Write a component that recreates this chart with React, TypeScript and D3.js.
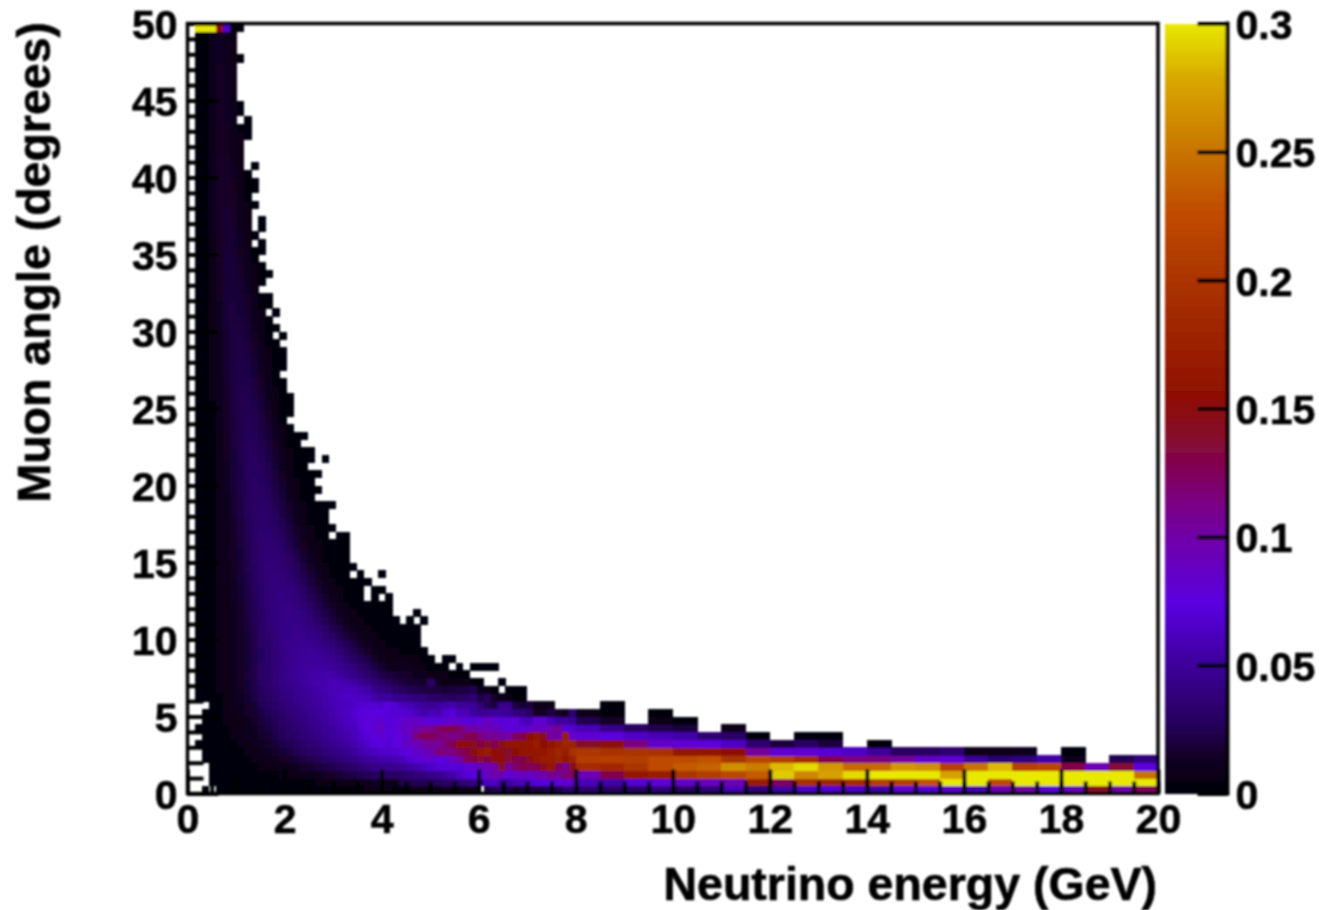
import React, { useEffect, useRef } from 'react';
import * as d3 from 'd3';

// Bin counts, in units of 0.001 on the colour axis. 0 = empty bin (white)
// Each row is one 0.5 degree slice of muon angle, first entry is the lowest energy bin.
const fineRows: number[][] = [
  [0,0,1,0,1,1,1,1,1,1,1,1,1,1,2,2,2,2,2,2,3,3,3,4,4,6,6,8,6,5,5,6,7,8,8,9,10,9,11,12,12,0,20,28,30,22,14,20,24,20,22,26,25,35,38],
  [0,0,0,1,1,1,1,1,2,2,2,2,2,3,3,4,4,5,6,6,7,8,8,9,10,11,13,14,12,12,24,25,26,26,27,28,30,33,36,38,42,45,62,66,50,52,58,62,68,70,72,78,80,82,85],
  [0,0,0,1,1,1,2,2,2,3,3,4,5,6,7,8,10,11,12,14,16,18,20,22,25,27,29,31,30,31,32,35,38,40,44,46,50,55,62,70,74,78,88,100,92,78,85,90,88,92,100,110,105,118,122],
  [0,0,0,1,2,2,2,3,3,5,6,7,8,10,11,13,15,17,20,22,25,27,30,32,36,39,42,45,45,46,48,52,55,60,66,70,70,72,70,78,82,90,95,100,140,105,120,130,125,130,145,165,125,110,145],
  [0,0,1,1,2,2,3,4,5,7,8,10,12,14,16,19,21,24,27,30,33,36,39,42,46,50,52,55,55,58,62,68,72,80,82,75,78,90,100,125,130,135,130,150,155,135,130,130,145,165,170,172,175,160,175],
  [0,0,1,1,2,3,4,5,7,8,11,13,15,19,21,25,28,30,33,37,40,44,47,50,55,59,62,66,66,68,72,78,85,90,95,118,115,112,125,130,148,165,170,155,148,138,155,160,165,165,165,170,180,170,195],
  [0,1,1,1,2,3,5,6,8,10,13,16,19,23,26,29,32,35,39,43,46,49,52,55,61,67,72,76,70,75,80,88,92,100,108,105,118,128,155,150,140,132,140,128,145,160,160,158,165,170,155,160,170,182,178],
  [0,0,1,1,3,4,6,8,11,12,16,19,23,27,30,33,36,39,43,47,50,54,57,60,66,72,76,80,72,75,80,90,115,128,125,118,115,110,115,125,130,115,105,110,100,105,122,128,155,158,145,105,100,168,88],
  [0,1,1,2,3,5,7,9,11,13,18,21,25,29,32,35,38,42,46,49,52,56,60,63,69,75,82,88,72,78,85,90,98,105,110,122,128,130,122,105,100,95,95,92,85,75,72,78,82,90,88,100,108,72,68],
  [0,0,1,2,4,6,8,9,12,15,20,23,27,31,34,37,41,45,48,51,55,58,62,66,71,76,80,82,72,78,82,85,85,80,75,72,78,85,82,72,70,78,90,80,72,78,80,62,60,78,82,60,52,52,48],
  [0,0,1,2,4,7,9,11,15,17,23,26,29,33,37,40,44,47,50,53,56,60,64,67,72,76,76,74,72,70,70,68,62,55,60,58,68,72,62,60,52,48,50,52,50,48,40,38,30,15,15,22,15,12,35],
  [0,0,0,2,5,7,10,12,16,19,26,29,32,36,39,42,46,49,52,55,58,60,63,66,69,70,70,68,74,70,62,60,55,50,48,52,55,58,50,52,48,38,26,22,45,45,22,18,20,8,8,6],
  [0,1,1,2,5,8,11,13,17,21,28,30,34,38,41,45,48,50,53,55,59,62,65,66,64,62,56,52,52,46,45,42,40,38,32,30,30,28,30,32,36,22,28,15,10,8,4,5],
  [0,1,1,3,6,8,11,14,18,23,29,32,36,41,44,46,49,52,55,57,60,60,62,62,58,55,47,42,38,32,28,26,24,22,20,20,18,20,20,22,25,12,8,4,0,2,2,1],
  [0,1,1,3,6,9,12,15,19,24,30,33,37,42,46,48,52,55,56,58,60,59,56,54,48,44,37,32,28,24,20,18,18,16,30,10,9,9,8,7,5,3,0,0,1],
  [0,1,1,3,6,9,12,15,20,24,30,33,37,42,46,49,52,54,55,56,55,52,48,44,38,34,29,24,20,18,17,15,12,10,9,8,6,5,4,2],
  [0,1,1,3,6,9,12,15,19,24,30,33,37,41,45,48,51,53,53,52,50,47,43,39,32,28,22,18,12,10,10,10,8,6,4,3,2,0,1,0,1,1,1,1],
  [0,1,1,3,6,9,12,15,19,23,29,33,37,41,45,48,50,51,51,49,46,42,36,32,26,22,16,12,8,8,9,8,6,3,1,0,1,1],
  [0,1,1,3,6,9,12,15,19,24,29,33,37,41,45,47,49,50,48,45,42,36,31,26,20,16,11,9,8,6,5,4,3,1],
  [0,1,1,3,6,9,12,15,19,24,30,33,37,42,45,47,47,46,43,41,36,31,26,21,15,12,8,6,4,3,2,1,1],
  [0,1,1,3,6,9,12,15,19,24,30,34,38,42,44,46,45,44,40,35,30,25,20,16,11,9,6,4,3,2,2,1,1],
  [0,1,1,3,6,9,12,15,20,25,31,35,39,42,44,45,43,41,36,31,25,20,15,12,8,6,4,3,2,2,1,1,1],
  [0,1,1,3,6,9,12,16,20,26,31,36,39,42,44,44,41,37,32,26,20,16,12,9,6,4,3,2,1,1,0,1,0,1],
  [0,1,1,3,6,9,12,16,21,26,32,36,40,42,43,42,39,34,28,23,17,13,9,7,5,3,2,1,1,0,0,0,1],
  [0,1,1,3,6,9,12,16,21,27,32,37,40,42,42,40,36,30,25,19,14,10,7,5,3,2,2,1,1],
  [0,1,1,3,6,9,13,17,22,27,33,37,40,41,40,38,33,27,21,16,11,8,5,3,2,0,1,0,1],
  [0,1,1,3,6,9,13,17,22,28,33,37,40,40,39,35,30,24,18,13,9,6,4,2,1,0,1,1],
  [0,1,1,3,6,10,13,18,23,28,34,37,39,39,36,32,27,21,15,11,7,5,3,2,1,1],
  [0,1,1,3,7,10,14,18,23,29,34,37,38,37,34,29,24,18,13,8,5,3,2,0,1,0,0,1],
  [0,1,1,3,7,10,14,18,24,29,34,37,37,35,32,27,21,15,10,7,4,3,2,1],
  [0,1,1,3,7,10,14,19,24,30,34,36,36,34,30,24,18,13,9,5,3,2,1],
  [0,1,1,3,7,10,15,19,25,30,34,36,35,32,27,22,16,11,7,4,3,2,1],
  [0,1,1,3,7,11,15,20,25,30,34,35,34,31,25,19,14,9,6,4,2,1,1],
  [0,1,1,4,7,11,15,20,26,31,34,34,32,28,23,17,12,7,4,2,0,1,1],
  [0,1,1,4,7,11,16,21,26,31,33,33,30,26,21,15,10,6,4,2,1],
  [0,1,1,4,8,12,16,21,26,31,33,32,29,24,19,13,9,5,3,1],
  [0,1,1,4,8,12,17,22,27,31,32,31,27,22,17,12,8,4,2,1],
  [0,1,1,4,8,12,17,22,27,30,32,30,26,21,15,10,6,3,2,1,1],
  [0,1,1,4,8,12,17,22,27,30,31,28,24,19,13,8,4,2],
  [0,1,1,4,8,13,18,23,27,30,30,27,23,17,11,7,4,2,1],
  [0,1,1,4,8,13,18,23,27,30,29,26,21,16,10,6,3,1],
  [0,1,1,4,8,13,18,23,28,29,28,25,20,14,9,5,3,1,1],
  [0,1,1,4,9,13,19,23,27,29,27,24,18,12,7,4,2],
  [0,1,2,5,9,14,19,24,27,28,26,22,17,11,6,3,2,1,0,1],
  [0,1,2,5,9,14,19,24,27,28,26,21,16,10,6,3,1,1],
  [0,1,2,5,9,14,20,24,27,27,24,20,14,9,5,2],
  [0,1,2,5,9,14,20,24,26,26,23,18,13,8,4,2,1],
  [0,1,2,5,10,15,20,24,26,25,22,17,11,7,3],
  [0,1,2,5,10,15,20,24,26,25,21,16,10,5],
  [0,1,2,5,10,15,21,24,25,24,20,14,9,5,2],
  [0,1,2,5,10,15,21,24,25,23,19,13,8,4,2],
  [0,1,2,6,11,16,21,24,25,22,18,12,7,3,1],
  [0,1,2,6,11,16,21,24,24,21,16,11,6,3],
  [0,1,2,6,11,16,21,23,23,20,15,10,5,2],
  [0,1,2,6,11,17,21,23,22,19,14,9,4],
  [0,1,2,6,11,17,21,23,22,18,13,8,4,2],
  [0,1,3,6,12,17,21,22,21,17,12,7,3,1],
  [0,1,3,7,12,17,21,22,20,16,11,6,3,1],
  [0,1,3,7,12,17,21,22,20,15,10,5,2],
  [0,1,3,7,12,17,21,21,19,14,9,4,0,1],
  [0,1,3,7,13,18,21,21,18,13,8,4,1],
  [0,1,3,7,13,18,20,20,17,12,7,3],
  [0,1,3,8,13,18,20,19,16,11,6,0,1],
  [0,1,3,8,13,18,20,19,15,10,5,2],
  [0,1,3,8,14,18,19,18,15,10,5,2],
  [0,1,4,8,14,18,19,17,13,7],
  [0,1,4,8,14,18,19,17,12,7,3],
  [0,1,4,9,14,18,19,16,12,6,3,1],
  [0,1,4,9,14,18,18,15,11,6,2],
  [0,1,4,9,15,18,18,15,10,5],
  [0,1,4,9,15,18,17,14,10,5,2],
  [0,1,4,9,15,17,17,13,8,0,1],
  [0,1,4,9,15,17,17,13,8,4],
  [0,1,4,10,15,17,16,12,7,0,1],
  [0,1,4,10,15,17,16,12,7,0,1],
  [0,1,5,10,15,17,15,11,6],
  [0,1,5,10,15,16,15,11,6,2],
  [0,1,5,10,15,16,14,10,5],
  [0,1,5,11,15,16,14,9,5,2],
  [0,1,5,11,15,16,14,9,5,2],
  [0,1,5,11,15,15,13,8,3],
  [0,1,5,11,15,15,12,7,0,1],
  [0,1,5,11,15,15,12,7],
  [0,1,5,11,14,14,12,6],
  [0,1,5,11,14,14,11,6],
  [0,1,5,11,14,14,11,6,2],
  [0,1,5,11,14,14,11,5,2],
  [0,1,5,11,14,13,10,0,1],
  [0,1,5,11,14,13,10,5],
  [0,1,5,11,14,13,10,5],
  [0,1,5,11,14,13,9],
  [0,1,5,11,14,13,9],
  [0,1,5,11,14,13,9],
  [0,1,5,11,14,13,9],
  [0,1,5,11,14,12,9],
  [0,1,5,11,13,12,9,4],
  [0,1,5,10,13,12,8],
  [0,1,5,10,13,12,8],
  [0,1,5,10,13,12,8],
  [0,300,300,300,150,68,3,1]
];

// 0.5 GeV wide bins from 8 to 20 GeV, only the lowest twelve angle slices reach them
const wideRows: number[][] = [
  [35,30,30,40,30,40,60,40,55,65,70,65,55,80,70,80,60,95,100,75,90,140,100,125],
  [60,55,70,80,85,90,95,170,125,195,180,190,215,215,230,300,300,225,300,300,300,300,300,300],
  [95,130,165,170,200,210,220,235,290,260,275,295,300,300,300,275,300,300,300,300,300,300,300,250],
  [190,185,200,225,235,240,265,255,285,295,270,245,245,270,265,215,250,285,215,220,130,95,135,75],
  [210,215,210,225,225,230,200,220,210,190,130,115,115,105,85,80,50,35,40,55,12,0,25,40],
  [205,195,200,195,165,160,155,105,80,80,70,65,50,30,30,35,6,6,12,0,4,0,0,0],
  [140,150,115,85,80,75,65,35,20,30,20,0,4,0,0,0,0,0,0,0,0,0,0,0],
  [80,75,65,60,55,35,30,5,0,3,4,0,0,0,0,0,0,0,0,0,0,0,0,0],
  [60,45,30,25,20,0,6],
  [25,15,0,6,5],
  [6,5,0,3],
  [0,3]
];

// Colour axis palette
const paletteStops = [0, 0.013, 0.029, 0.05, 0.074, 0.1, 0.112, 0.125, 0.14, 0.155, 0.174, 0.2, 0.227, 0.25, 0.279, 0.3];
const paletteColors = ['#000008', '#100020', '#280060', '#3c0098', '#5a00e0', '#7000a8', '#7a0088', '#80005c', '#860c28', '#8e1004', '#9a2000', '#aa3400', '#c04c00', '#c87400', '#d8a800', '#e8e800'];

const energyTicks = [0, 2, 4, 6, 8, 10, 12, 14, 16, 18, 20];
const angleTicks = [0, 5, 10, 15, 20, 25, 30, 35, 40, 45, 50];
const colourTicks = [0, 0.05, 0.1, 0.15, 0.2, 0.25, 0.3];

const FONT = '"Liberation Sans", Arial, sans-serif';

const App = () => {
  const svgRef = useRef<SVGSVGElement>(null);

  useEffect(() => {
    const svg = d3.select(svgRef.current);
    svg.selectAll('*').remove();

    const plot = { left: 187.5, right: 1158, top: 23.5, bottom: 793.5 };
    const x = d3.scaleLinear().domain([0, 20]).range([plot.left, plot.right]);
    const y = d3.scaleLinear().domain([0, 50]).range([plot.bottom, plot.top]);
    const z = d3.scaleLinear<string>().domain(paletteStops).range(paletteColors).clamp(true);
    const barY = d3.scaleLinear().domain([0, 0.3]).range([plot.bottom, plot.top]);

    // The source is a scaled up raster, so everything is slightly soft
    const defs = svg.append('defs');
    defs.append('filter').attr('id', 'soft')
      .attr('x', '-5%').attr('y', '-5%').attr('width', '110%').attr('height', '110%')
      .append('feGaussianBlur').attr('stdDeviation', 0.8);

    const root = svg.append('g').attr('filter', 'url(#soft)');

    // Bin edges: 55 fine bins up to 8 GeV, then 24 wide ones
    const fineStep = 8 / 55;
    const rowStep = 0.5;
    const cells = root.append('g').attr('shape-rendering', 'crispEdges');
    const addCell = (e0: number, e1: number, row: number, v: number) => {
      if (!v) return;
      cells.append('rect')
        .attr('x', x(e0))
        .attr('y', y((row + 1) * rowStep))
        .attr('width', x(e1) - x(e0) + 0.5)
        .attr('height', y(row * rowStep) - y((row + 1) * rowStep) + 0.5)
        .attr('fill', z(v / 1000));
    };
    fineRows.forEach((vals, row) => vals.forEach((v, i) => addCell(i * fineStep, (i + 1) * fineStep, row, v)));
    wideRows.forEach((vals, row) => vals.forEach((v, i) => addCell(8 + i * 0.5, 8.5 + i * 0.5, row, v)));

    // Colour bar
    const barLeft = 1165, barRight = 1227.5;
    const levels = d3.range(0, 0.3, 0.001);
    root.append('g').attr('shape-rendering', 'crispEdges')
      .selectAll('rect').data(levels).enter().append('rect')
      .attr('x', barLeft)
      .attr('y', d => barY(d + 0.001))
      .attr('width', barRight - barLeft)
      .attr('height', d => barY(d) - barY(d + 0.001) + 0.5)
      .attr('fill', d => z(d + 0.0005));

    const styleAxis = (g: any) => {
      g.select('.domain').remove();
      g.selectAll('line').attr('stroke', '#000').attr('stroke-width', 4);
      g.selectAll('text')
        .attr('fill', '#000')
        .attr('stroke', '#000')
        .attr('stroke-width', 0.6)
        .attr('font-family', FONT)
        .attr('font-weight', 'bold')
        .attr('font-size', 41);
    };

    // Minor ticks first, then labelled major ticks
    root.append('g').attr('transform', `translate(0,${plot.bottom})`)
      .call(d3.axisBottom(x).tickValues(d3.range(0, 20.5, 0.5)).tickSizeInner(-12).tickSizeOuter(0).tickFormat(() => ''))
      .call(styleAxis);
    const xAxis = root.append('g').attr('transform', `translate(0,${plot.bottom})`)
      .call(d3.axisBottom(x).tickValues(energyTicks).tickSizeInner(-24).tickSizeOuter(0))
      .call(styleAxis);
    xAxis.selectAll('text').attr('y', 39.5).attr('dy', 0);

    root.append('g').attr('transform', `translate(${plot.left},0)`)
      .call(d3.axisLeft(y).tickValues(d3.range(0, 51, 1)).tickSizeInner(-16).tickSizeOuter(0).tickFormat(() => ''))
      .call(styleAxis);
    const yAxis = root.append('g').attr('transform', `translate(${plot.left},0)`)
      .call(d3.axisLeft(y).tickValues(angleTicks).tickSizeInner(-31).tickSizeOuter(0))
      .call(styleAxis);
    yAxis.selectAll('text').attr('x', -10).attr('dy', 15);

    const zAxis = root.append('g').attr('transform', `translate(${barRight},0)`)
      .call(d3.axisRight(barY).tickValues(colourTicks).tickSizeInner(-30).tickSizeOuter(0).tickFormat(d => String(d)))
      .call(styleAxis);
    zAxis.selectAll('text').attr('x', 8).attr('dy', 15);

    // Colour bar spine and plot frame
    root.append('line')
      .attr('x1', barRight).attr('x2', barRight)
      .attr('y1', plot.top - 2).attr('y2', plot.bottom + 2)
      .attr('stroke', '#000').attr('stroke-width', 4);
    root.append('rect')
      .attr('x', plot.left).attr('y', plot.top)
      .attr('width', plot.right - plot.left).attr('height', plot.bottom - plot.top)
      .attr('fill', 'none').attr('stroke', '#000').attr('stroke-width', 3.5);

    // Axis titles
    root.append('text')
      .attr('x', 1157).attr('y', 900)
      .attr('text-anchor', 'end')
      .attr('stroke', '#000').attr('stroke-width', 0.6)
      .attr('font-family', FONT).attr('font-weight', 'bold').attr('font-size', 46.5)
      .text('Neutrino energy (GeV)');
    root.append('text')
      .attr('transform', 'translate(50,22) rotate(-90)')
      .attr('text-anchor', 'end')
      .attr('stroke', '#000').attr('stroke-width', 0.6)
      .attr('font-family', FONT).attr('font-weight', 'bold').attr('font-size', 46.5)
      .text('Muon angle (degrees)');
  }, []);

  return (
    <svg
      ref={svgRef}
      width={1319}
      height={910}
      style={{ position: 'absolute', left: 0, top: 0, background: '#fff' }}
    />
  );
};

export default App;
